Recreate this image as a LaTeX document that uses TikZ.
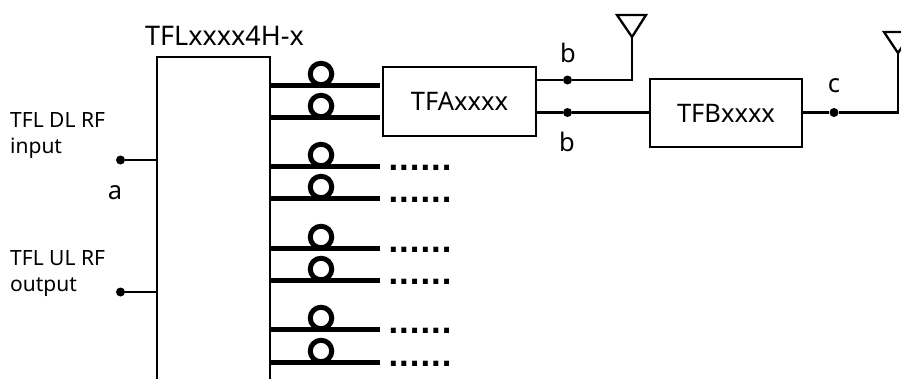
\documentclass[tikz,border=0pt]{standalone}
\usepackage{fontspec}
\setmainfont{Noto Sans}
\newfontfamily\dotfont{DejaVu Sans}
\usetikzlibrary{calc,positioning}
\tikzset{
	blockbox/.style={draw,line width=2.3pt,inner sep=0pt,font=\fontsize{25.5}{30}\selectfont},
	tapdot/.style={circle,fill=black,inner sep=0pt,minimum size=9pt},
	fibreloop/.style={circle,draw,line width=5pt,inner sep=0pt,minimum size=21.5pt},
	fibre/.style={line width=5pt},
	wire/.style={line width=2.3pt},
	lab/.style={inner sep=0pt,font=\fontsize{25.5}{30}\selectfont},
	smalllab/.style={inner sep=0pt,align=left,font=\fontsize{21}{26}\selectfont},
	morefibres/.style={inner sep=0pt,font=\dotfont\bfseries\fontsize{28}{28}\selectfont}
}
\begin{document}
\begin{tikzpicture}[x=1pt,y=-1pt]
	\useasboundingbox (0,0) rectangle (901,378);
	\clip (0,0) rectangle (901,378);
	% Blocks
	\node[blockbox,minimum width=113pt,minimum height=400pt] (tfl) at (213.5,257) {};
	\node[blockbox,minimum width=153pt,minimum height=69pt] (tfa) at (459.5,101.5) {TFAxxxx};
	\node[blockbox,minimum width=152pt,minimum height=68pt] (tfb) at (726,113) {TFBxxxx};
	\node[lab,font=\fontsize{27}{30}\selectfont] (tfltitle) at (224.5,36) {TFLxxxx4H-x};
	% Left ports
	\node[smalllab,anchor=west] (dllab) at (10,136) {TFL DL RF\\input};
	\node[smalllab,anchor=west] (ullab) at (10,274) {TFL UL RF\\output};
	\node[tapdot] (dlin) at (120.5,160) {};
	\node[tapdot] (ulout) at (120.5,292) {};
	\node[lab] (alab) at (115,193) {a};
	\draw[wire] (dlin) -- (dlin -| tfl.west);
	\draw[wire] (ulout) -- (ulout -| tfl.west);
	% Fibres towards the TFA
	\foreach \n/\y in {1/85,2/117}{
		\coordinate (fibend\n) at (380,\y);
		\node[fibreloop] (fibloop\n) at (321,\y-11) {};
		\draw[fibre] (fibend\n -| tfl.east) -- (fibend\n);
	}
	% Remaining fibres
	\foreach \n/\y in {3/166,4/198,5/248,6/280,7/329,8/362}{
		\coordinate (fibend\n) at (380,\y);
		\node[fibreloop] (fibloop\n) at (321,\y-11) {};
		\draw[fibre] (fibend\n -| tfl.east) -- (fibend\n);
		\node[morefibres,anchor=base] (fibmore\n) at (420,\y+4.5) {......};
	}
	% Outputs of TFA
	\node[tapdot] (tapb1) at (567.5,80) {};
	\node[tapdot] (tapb2) at (567.5,112.5) {};
	\node[lab] (blab1) at (568,53) {b};
	\node[lab] (blab2) at (567,142) {b};
	\coordinate (ant1) at (632,37);
	\coordinate (ant1l) at (617,15);
	\coordinate (ant1r) at (646,15);
	\draw[wire] (tapb1 -| tfa.east) -- (tapb1) -- (tapb1 -| ant1) -- (ant1);
	\draw[wire,line join=miter] (ant1) -- (ant1l) -- (ant1r) -- cycle;
	\draw[wire] (tapb2 -| tfa.east) -- (tapb2) -- (tapb2 -| tfb.west);
	% Output of TFB
	\node[tapdot] (tapc) at (834,112.5) {};
	\node[lab] (clab) at (834,86) {c};
	\coordinate (ant2) at (898,53);
	\coordinate (ant2l) at (884,32);
	\coordinate (ant2r) at (912,32);
	\draw[wire] (tapc -| tfb.east) -- (tapc) -- (tapc -| ant2) -- (ant2);
	\draw[wire,line join=miter] (ant2) -- (ant2l) -- (ant2r) -- cycle;
\end{tikzpicture}
\end{document}
